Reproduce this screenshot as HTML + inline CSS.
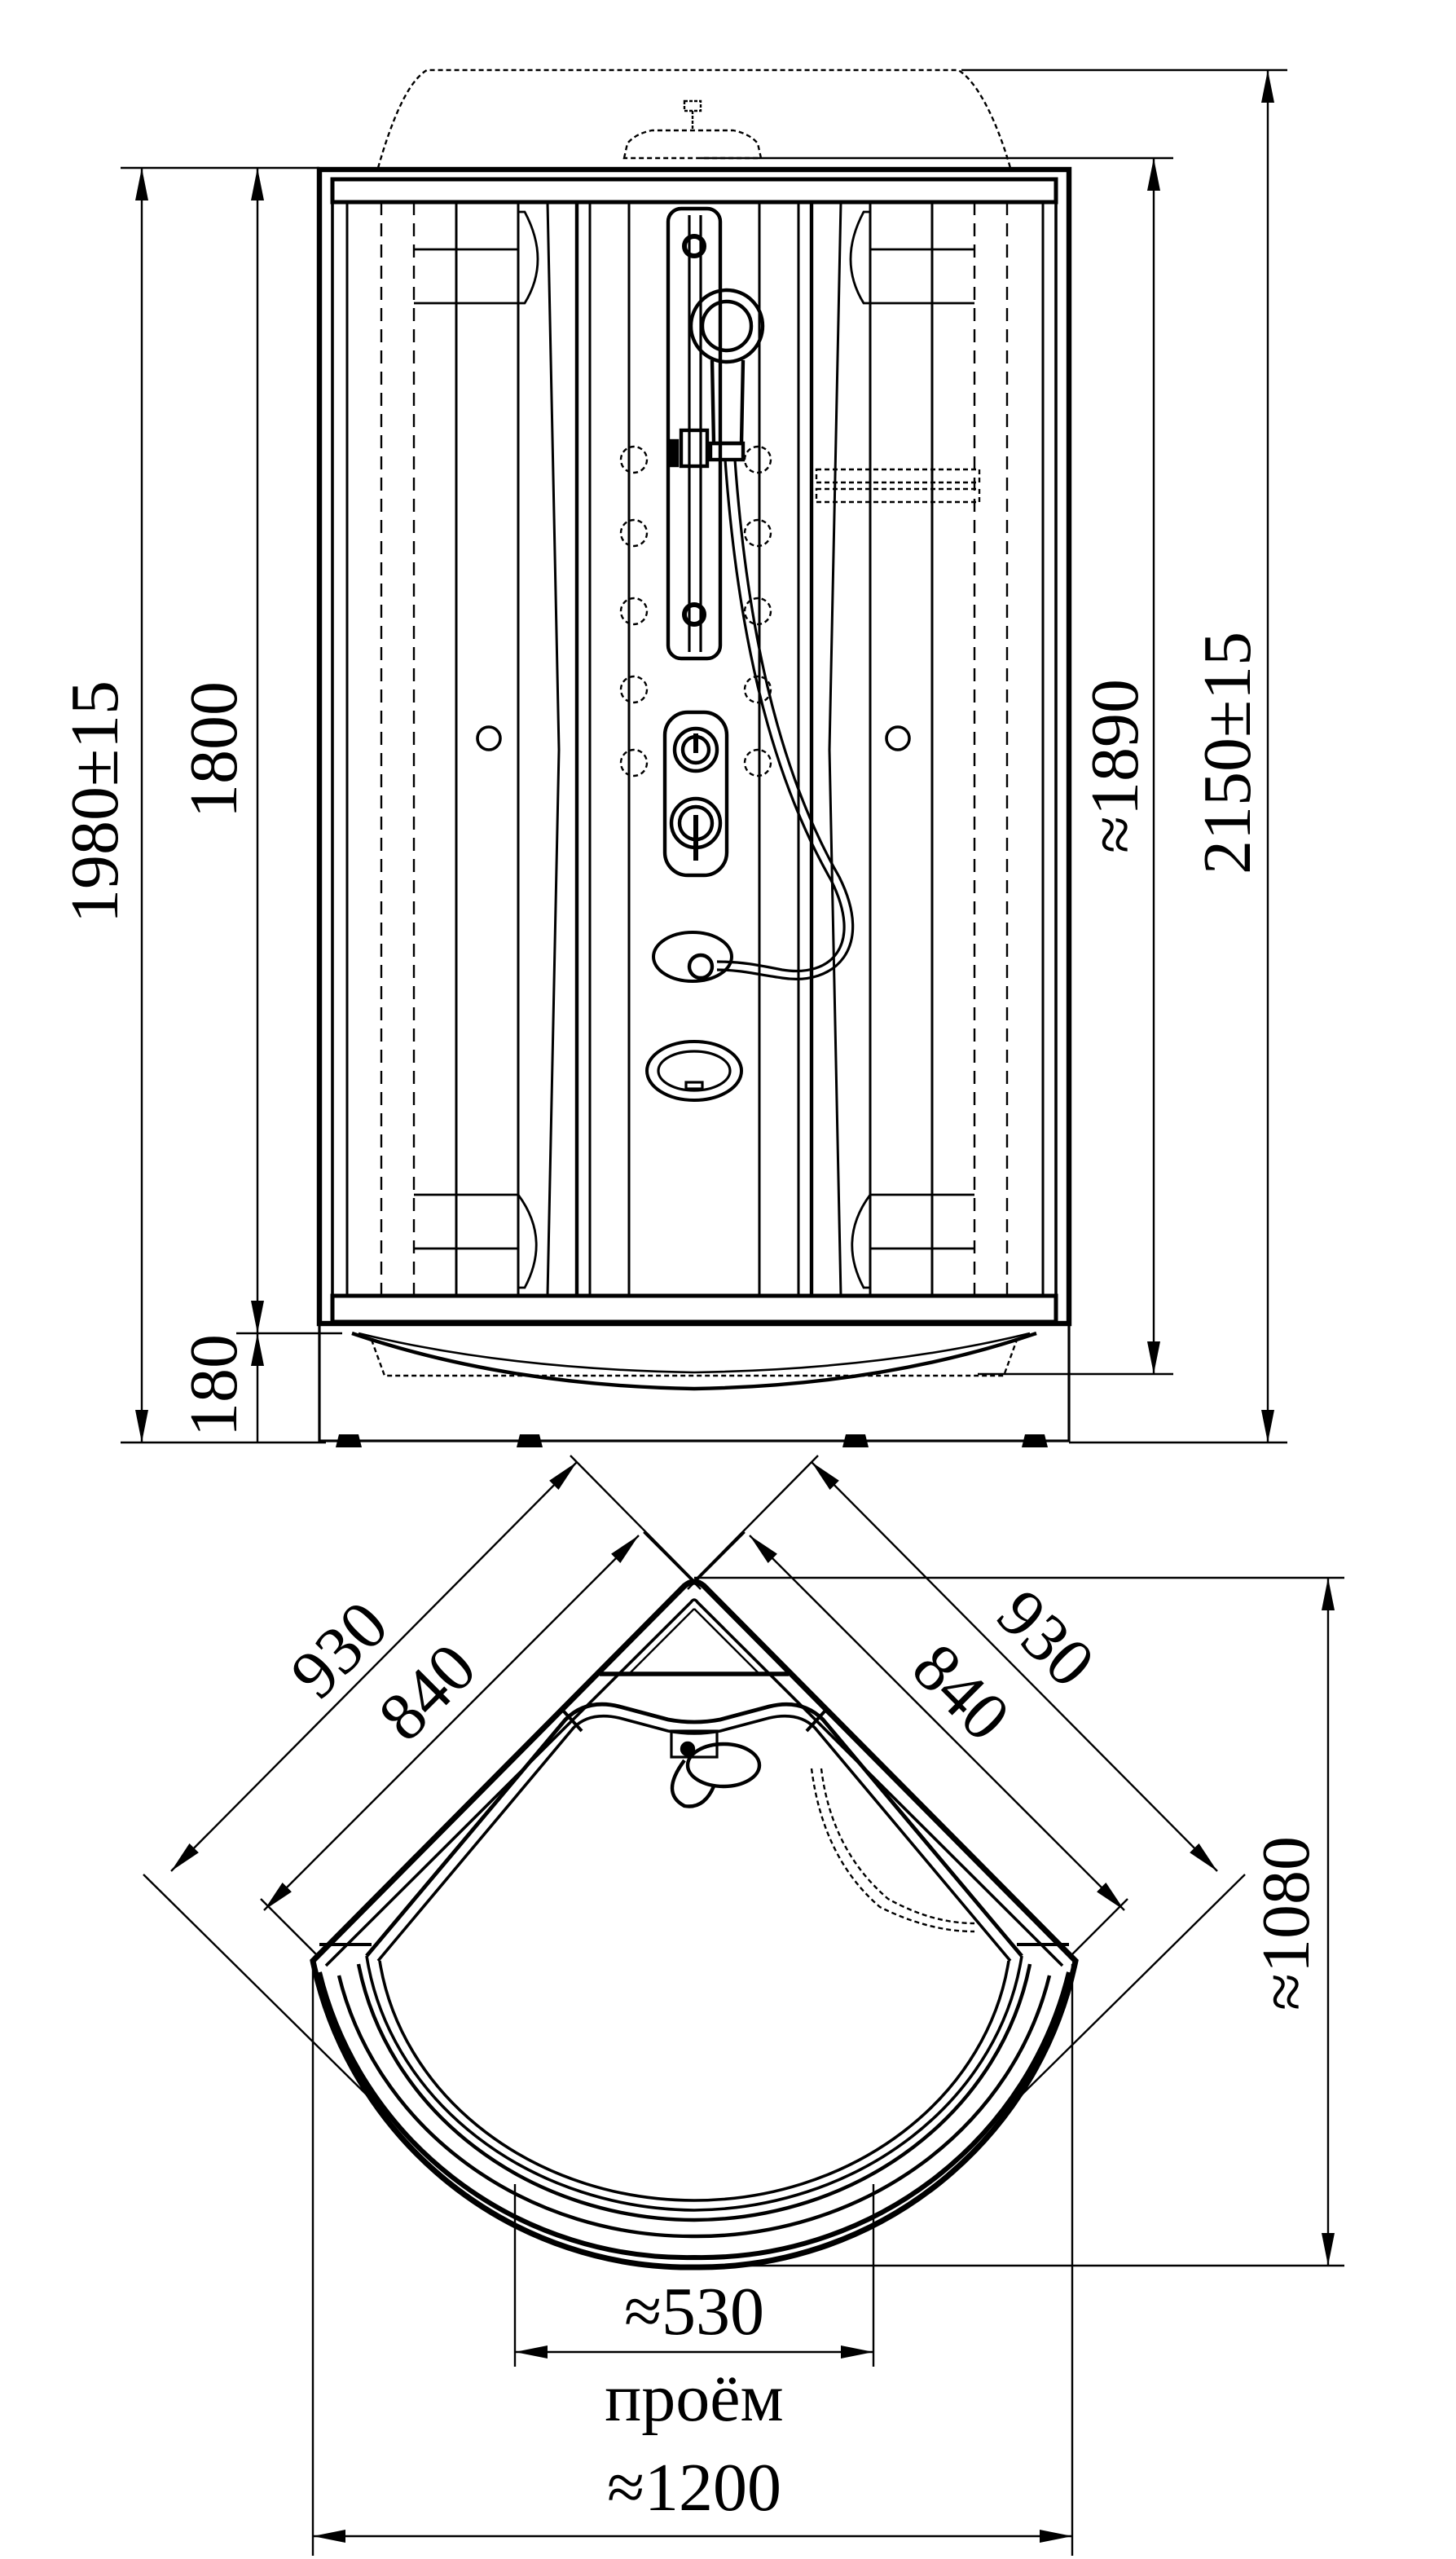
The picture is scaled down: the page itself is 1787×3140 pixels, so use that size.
<!DOCTYPE html>
<html><head><meta charset="utf-8"><style>
html,body{margin:0;padding:0;background:#fff}
svg{display:block}
text{font-family:"Liberation Serif",serif;fill:#000}
</style></head><body>
<svg width="1787" height="3140" viewBox="0 0 893.5 1570" xmlns="http://www.w3.org/2000/svg">
<defs>
<marker id="a" viewBox="0 0 20 8" refX="20" refY="4" markerWidth="20" markerHeight="8" markerUnits="userSpaceOnUse" orient="auto-start-reverse"><path d="M0,0 L20,4 L0,8 z" fill="#000"/></marker>
</defs>
<g fill="none" stroke="#000" stroke-width="1.2">
<path d="M232,103 C240,75 250,50 262,43 L588,43 C600,50 612,75 620,103" stroke-dasharray="3,2"/>
<path d="M383,97 L385,88 Q390,82 400,80 L450,80 Q460,82 465,88 L467,97 Z" stroke-dasharray="3,2"/>
<rect x="420" y="62" width="10" height="6" stroke-dasharray="2,1"/>
<line x1="425" y1="68" x2="425" y2="80" stroke-dasharray="2,1"/>
<rect x="196" y="104" width="460" height="708" stroke-width="3.2"/>
<rect x="204" y="110" width="444" height="14" stroke-width="2.5"/>
<rect x="204" y="795" width="444" height="16" stroke-width="2.5"/>
<line x1="204" y1="124" x2="204" y2="795" stroke-width="1.8"/>
<line x1="648" y1="124" x2="648" y2="795" stroke-width="1.8"/>
<g stroke-width="1.5">
<line x1="213" y1="124" x2="213" y2="795"/>
<line x1="640" y1="124" x2="640" y2="795"/>
<line x1="280" y1="124" x2="280" y2="795"/>
<line x1="572" y1="124" x2="572" y2="795"/>
<line x1="318" y1="124" x2="318" y2="795"/>
<line x1="534" y1="124" x2="534" y2="795"/>
<path d="M336,124 L343,460 L336,795"/>
<path d="M516,124 L509,460 L516,795"/>
<line x1="354" y1="124" x2="354" y2="795" stroke-width="2.2"/>
<line x1="362" y1="124" x2="362" y2="795"/>
<line x1="386" y1="124" x2="386" y2="795"/>
<line x1="466" y1="124" x2="466" y2="795"/>
<line x1="490" y1="124" x2="490" y2="795"/>
<line x1="498" y1="124" x2="498" y2="795" stroke-width="2.2"/>
</g>
<g stroke-dasharray="8,5">
<line x1="234" y1="124" x2="234" y2="795"/><line x1="254" y1="124" x2="254" y2="795"/>
<line x1="598" y1="124" x2="598" y2="795"/><line x1="618" y1="124" x2="618" y2="795"/>
</g>
<g stroke-width="1.4">
<line x1="254" y1="153" x2="318" y2="153"/><line x1="254" y1="186" x2="318" y2="186"/>
<path d="M318,130 L322,130 Q338,160 322,186 L318,186"/>
<line x1="534" y1="153" x2="598" y2="153"/><line x1="534" y1="186" x2="598" y2="186"/>
<path d="M534,130 L530,130 Q514,160 530,186 L534,186"/>
<line x1="254" y1="733" x2="318" y2="733"/><line x1="254" y1="766" x2="318" y2="766"/>
<path d="M318,733 Q338,760 322,790 L318,790"/>
<line x1="534" y1="733" x2="598" y2="733"/><line x1="534" y1="766" x2="598" y2="766"/>
<path d="M534,733 Q514,760 530,790 L534,790"/>
</g>
<circle cx="300" cy="453" r="7" stroke-width="1.8"/>
<circle cx="551" cy="453" r="7" stroke-width="1.8"/>
<rect x="410" y="128" width="32" height="276" rx="8" stroke-width="2.2"/>
<line x1="423" y1="132" x2="423" y2="400" stroke-width="1.6"/>
<line x1="430" y1="132" x2="430" y2="400" stroke-width="1.6"/>
<circle cx="426" cy="151" r="6" stroke-width="3"/>
<circle cx="426" cy="377" r="6" stroke-width="3"/>
<circle cx="446" cy="200" r="22" stroke-width="2.2"/>
<circle cx="446" cy="200" r="15" stroke-width="2.2"/>
<path d="M437,221 L438,272 L455,272 L456,221" stroke-width="2.2"/>
<rect x="418" y="264" width="16" height="22" stroke-width="2.2"/>
<rect x="436" y="272" width="20" height="10" stroke-width="2.2"/>
<rect x="410" y="270" width="6" height="16" fill="#000"/>
<path d="M445,282 C452,380 470,470 510,540 C530,580 510,600 480,595 C465,592 455,590 440,590" stroke-width="1.6"/>
<path d="M451,282 C458,380 476,470 515,538 C537,582 512,605 480,600 C465,598 455,595 440,595" stroke-width="1.6"/>
<rect x="408" y="437" width="38" height="100" rx="14" stroke-width="2.2"/>
<circle cx="427" cy="460" r="13" stroke-width="2.2"/><circle cx="427" cy="460" r="8" stroke-width="2.2"/>
<line x1="427" y1="450" x2="427" y2="462" stroke-width="3"/>
<circle cx="427" cy="505" r="15" stroke-width="2.2"/><circle cx="427" cy="505" r="10" stroke-width="2.2"/>
<line x1="427" y1="500" x2="427" y2="528" stroke-width="3"/>
<ellipse cx="425" cy="587" rx="24" ry="15" stroke-width="2"/>
<circle cx="430" cy="593" r="7" stroke-width="2.2"/>
<ellipse cx="426" cy="657" rx="29" ry="18" stroke-width="2"/>
<ellipse cx="426" cy="657" rx="22" ry="12" stroke-width="1.6"/>
<rect x="421" y="664" width="10" height="4" stroke-width="1.6"/>
<g stroke-dasharray="3,2">
<circle cx="389" cy="282" r="8"/><circle cx="465" cy="282" r="8"/>
<circle cx="389" cy="327" r="8"/><circle cx="465" cy="327" r="8"/>
<circle cx="389" cy="375" r="8"/><circle cx="465" cy="375" r="8"/>
<circle cx="389" cy="423" r="8"/><circle cx="465" cy="423" r="8"/>
<circle cx="389" cy="468" r="8"/><circle cx="465" cy="468" r="8"/>
<rect x="501" y="288" width="100" height="8"/>
<rect x="501" y="300" width="100" height="8"/>
</g>
<rect x="196" y="812" width="460" height="72" stroke-width="1.6"/>
<path d="M216,818 Q310,850 426,852 Q542,850 636,818" stroke-width="2.2"/>
<path d="M220,818 Q310,840 426,842 Q542,840 632,818" stroke-width="1.3"/>
<path d="M228,822 L236,844 L616,844 L624,822" stroke-dasharray="3,2"/>
<g fill="#000" stroke="none">
<path d="M208,880 L220,880 L222,888 L206,888 Z"/><path d="M319,880 L331,880 L333,888 L317,888 Z"/>
<path d="M519,880 L531,880 L533,888 L517,888 Z"/><path d="M629,880 L641,880 L643,888 L627,888 Z"/>
</g>
<line x1="74" y1="103" x2="196" y2="103"/>
<line x1="74" y1="885" x2="200" y2="885"/>
<line x1="145" y1="818" x2="210" y2="818"/>
<line x1="430" y1="97" x2="720" y2="97"/>
<line x1="590" y1="43" x2="790" y2="43"/>
<line x1="600" y1="843" x2="720" y2="843"/>
<line x1="656" y1="885" x2="790" y2="885"/>
<line x1="87" y1="103" x2="87" y2="885" marker-start="url(#a)" marker-end="url(#a)"/>
<line x1="158" y1="103" x2="158" y2="818" marker-start="url(#a)" marker-end="url(#a)"/>
<line x1="158" y1="818" x2="158" y2="885" marker-start="url(#a)"/>
<line x1="708" y1="97" x2="708" y2="843" marker-start="url(#a)" marker-end="url(#a)"/>
<line x1="778" y1="43" x2="778" y2="885" marker-start="url(#a)" marker-end="url(#a)"/>

<line x1="350" y1="893" x2="426" y2="970"/>
<line x1="502" y1="893" x2="426" y2="970"/>
<line x1="88" y1="1150" x2="240" y2="1300"/>
<line x1="764" y1="1150" x2="612" y2="1300"/>
<line x1="160" y1="1165" x2="195" y2="1200"/>
<line x1="692" y1="1165" x2="657" y2="1200"/>
<line x1="395" y1="940" x2="430" y2="975"/>
<line x1="457" y1="940" x2="422" y2="975"/>
<line x1="105" y1="1148" x2="354" y2="897" marker-start="url(#a)" marker-end="url(#a)"/>
<line x1="747" y1="1148" x2="498" y2="897" marker-start="url(#a)" marker-end="url(#a)"/>
<line x1="162" y1="1172" x2="392" y2="942" marker-start="url(#a)" marker-end="url(#a)"/>
<line x1="690" y1="1172" x2="460" y2="942" marker-start="url(#a)" marker-end="url(#a)"/>
<line x1="426" y1="968" x2="825" y2="968"/>
<line x1="426" y1="1390" x2="825" y2="1390"/>
<line x1="815" y1="968" x2="815" y2="1390" marker-start="url(#a)" marker-end="url(#a)"/>
<line x1="316" y1="1340" x2="316" y2="1452"/>
<line x1="536" y1="1340" x2="536" y2="1452"/>
<line x1="316" y1="1443" x2="536" y2="1443" marker-start="url(#a)" marker-end="url(#a)"/>
<line x1="192" y1="1205" x2="192" y2="1568"/>
<line x1="658" y1="1205" x2="658" y2="1568"/>
<line x1="192" y1="1556" x2="658" y2="1556" marker-start="url(#a)" marker-end="url(#a)"/>
<path d="M192,1203 L420,973 Q426,968 432,973 L660,1203 A236,236 0 0 1 426,1391 A236,236 0 0 1 192,1203 Z" stroke-width="3.5"/>
<path d="M200,1206 L424,983 Q426,980 428,983 L652,1206" stroke-width="1.8"/>
<path d="M196,1210 A232,228 0 0 0 426,1385 A232,228 0 0 0 656,1210" stroke-width="3"/>
<path d="M208,1212 A222,205 0 0 0 426,1372 A222,205 0 0 0 644,1212" stroke-width="2.2"/>
<path d="M220,1205 A210,190 0 0 0 426,1362 A210,190 0 0 0 632,1205" stroke-width="2.2"/>
<path d="M225,1200 L347,1055 Q360,1042 380,1047 L410,1055 Q426,1058 442,1055 L472,1047 Q492,1042 505,1055 L627,1200" stroke-width="2.4"/>
<path d="M232,1203 L352,1060 Q362,1050 380,1054 L410,1062 Q426,1065 442,1062 L472,1054 Q490,1050 500,1060 L620,1203" stroke-width="1.8"/>
<path d="M225,1200 A205,180 0 0 0 426,1356 A205,180 0 0 0 627,1200" stroke-width="1.8"/>
<path d="M233,1203 A195,170 0 0 0 426,1350 A195,170 0 0 0 619,1203" stroke-width="1.8"/>
<line x1="368" y1="1027" x2="484" y2="1027" stroke-width="2.8"/>
<line x1="386" y1="1027" x2="426" y2="987" stroke-width="1.2"/>
<line x1="466" y1="1027" x2="426" y2="987" stroke-width="1.2"/>
<line x1="196" y1="1193" x2="228" y2="1193" stroke-width="2"/>
<line x1="656" y1="1193" x2="624" y2="1193" stroke-width="2"/>
<line x1="346" y1="1050" x2="357" y2="1062" stroke-width="2"/>
<line x1="506" y1="1050" x2="495" y2="1062" stroke-width="2"/>
<ellipse cx="444" cy="1083" rx="22" ry="13" stroke-width="2.2"/>
<path d="M420,1080 Q405,1100 420,1108 Q432,1110 438,1096" stroke-width="2.2"/>
<rect x="412" y="1062" width="28" height="16" stroke-width="1.6"/>
<circle cx="422" cy="1073" r="4" fill="#000"/>
<path d="M498,1085 Q505,1140 540,1170 Q570,1185 598,1185" stroke-dasharray="3,2"/>
<path d="M504,1085 Q510,1135 545,1165 Q572,1180 598,1180" stroke-dasharray="3,2"/>
</g>
<g font-size="42">
<text transform="translate(72,492) rotate(-90)" text-anchor="middle">1980±15</text>
<text transform="translate(145,460) rotate(-90)" text-anchor="middle">1800</text>
<text transform="translate(145,850) rotate(-90)" text-anchor="middle">180</text>
<text transform="translate(698,470) rotate(-90)" text-anchor="middle">≈1890</text>
<text transform="translate(767,462) rotate(-90)" text-anchor="middle">2150±15</text>
<text transform="translate(218,1022) rotate(-45)" text-anchor="middle">930</text>
<text transform="translate(272,1048) rotate(-45)" text-anchor="middle">840</text>
<text transform="translate(632,1015) rotate(45)" text-anchor="middle">930</text>
<text transform="translate(580,1048) rotate(45)" text-anchor="middle">840</text>
<text transform="translate(803,1180) rotate(-90)" text-anchor="middle">≈1080</text>
<text x="426" y="1432" text-anchor="middle">≈530</text>
<text x="426" y="1485" text-anchor="middle">проём</text>
<text x="426" y="1540" text-anchor="middle">≈1200</text>
</g>
</svg>
</body></html>
